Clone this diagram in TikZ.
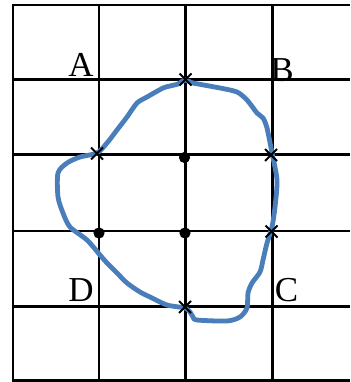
\documentclass[tikz,border=0pt]{standalone}
\usepackage{fontspec}
\setmainfont{Liberation Serif}
\usetikzlibrary{calc}
\definecolor{curveblue}{RGB}{74,126,187}
\begin{document}
\begin{tikzpicture}[x=1pt,y=-1pt,
  gridline/.style={line width=2.2pt,black},
  lbl/.style={inner sep=0pt,font=\fontsize{35}{40}\selectfont},
  xmark/.style={line width=1.9pt,black},
  dotmark/.style={fill=black,draw=none},
  curve/.style={line width=4.8pt,curveblue,line join=round}]
\useasboundingbox (0,0) rectangle (350,382);
% grid
\foreach \y in {5,79.5,154.5,231,306.5,380.5} \draw[gridline] (12,\y) -- (350,\y);
\foreach \x in {13,99,185.5,272.5} \draw[gridline] (\x,4) -- (\x,381.5);
% curve
\draw[curve] plot[smooth cycle,tension=0.45] coordinates {
(185,80) (193,83) (220,88) (237,92) (247,100) (257,113) (263,118) (267,128)
(272,153) (277,180) (275,207) (272,227) (267,243) (263,260) (260,272) (252,283)
(248,293) (247,308) (240,317) (227,321) (197,320) (193,317) (190,312) (185,308)
(167,305) (150,297) (140,292) (127,283) (117,273) (107,263) (100,255) (87,240)
(70,227) (63,213) (58,197) (58,173) (67,163) (80,157) (97,153) (107,143)
(117,130) (127,117) (137,103) (147,97) (163,88) (170,86) (178,84)};
% crosses
\coordinate (x1) at (185.5,79.5);
\coordinate (x2) at (97,153.5);
\coordinate (x3) at (271,155);
\coordinate (x4) at (271.5,231.5);
\coordinate (x5) at (185,307);
\foreach \n in {x1,x2,x3,x4,x5} {
  \draw[xmark] ($(\n)+(-6,-6)$) -- ($(\n)+(6,6)$);
  \draw[xmark] ($(\n)+(-6,6)$) -- ($(\n)+(6,-6)$);
}
% dots
\fill[dotmark] (184.5,157.5) circle (5.6);
\fill[dotmark] (99,233) circle (5.6);
\fill[dotmark] (185,233) circle (5.6);
% labels
\node[lbl] (A) at (81,65) {A};
\node[lbl] (B) at (282,70.5) {B};
\node[lbl] (D) at (81,290.5) {D};
\node[lbl] (C) at (286.5,290.5) {C};
\end{tikzpicture}
\end{document}
